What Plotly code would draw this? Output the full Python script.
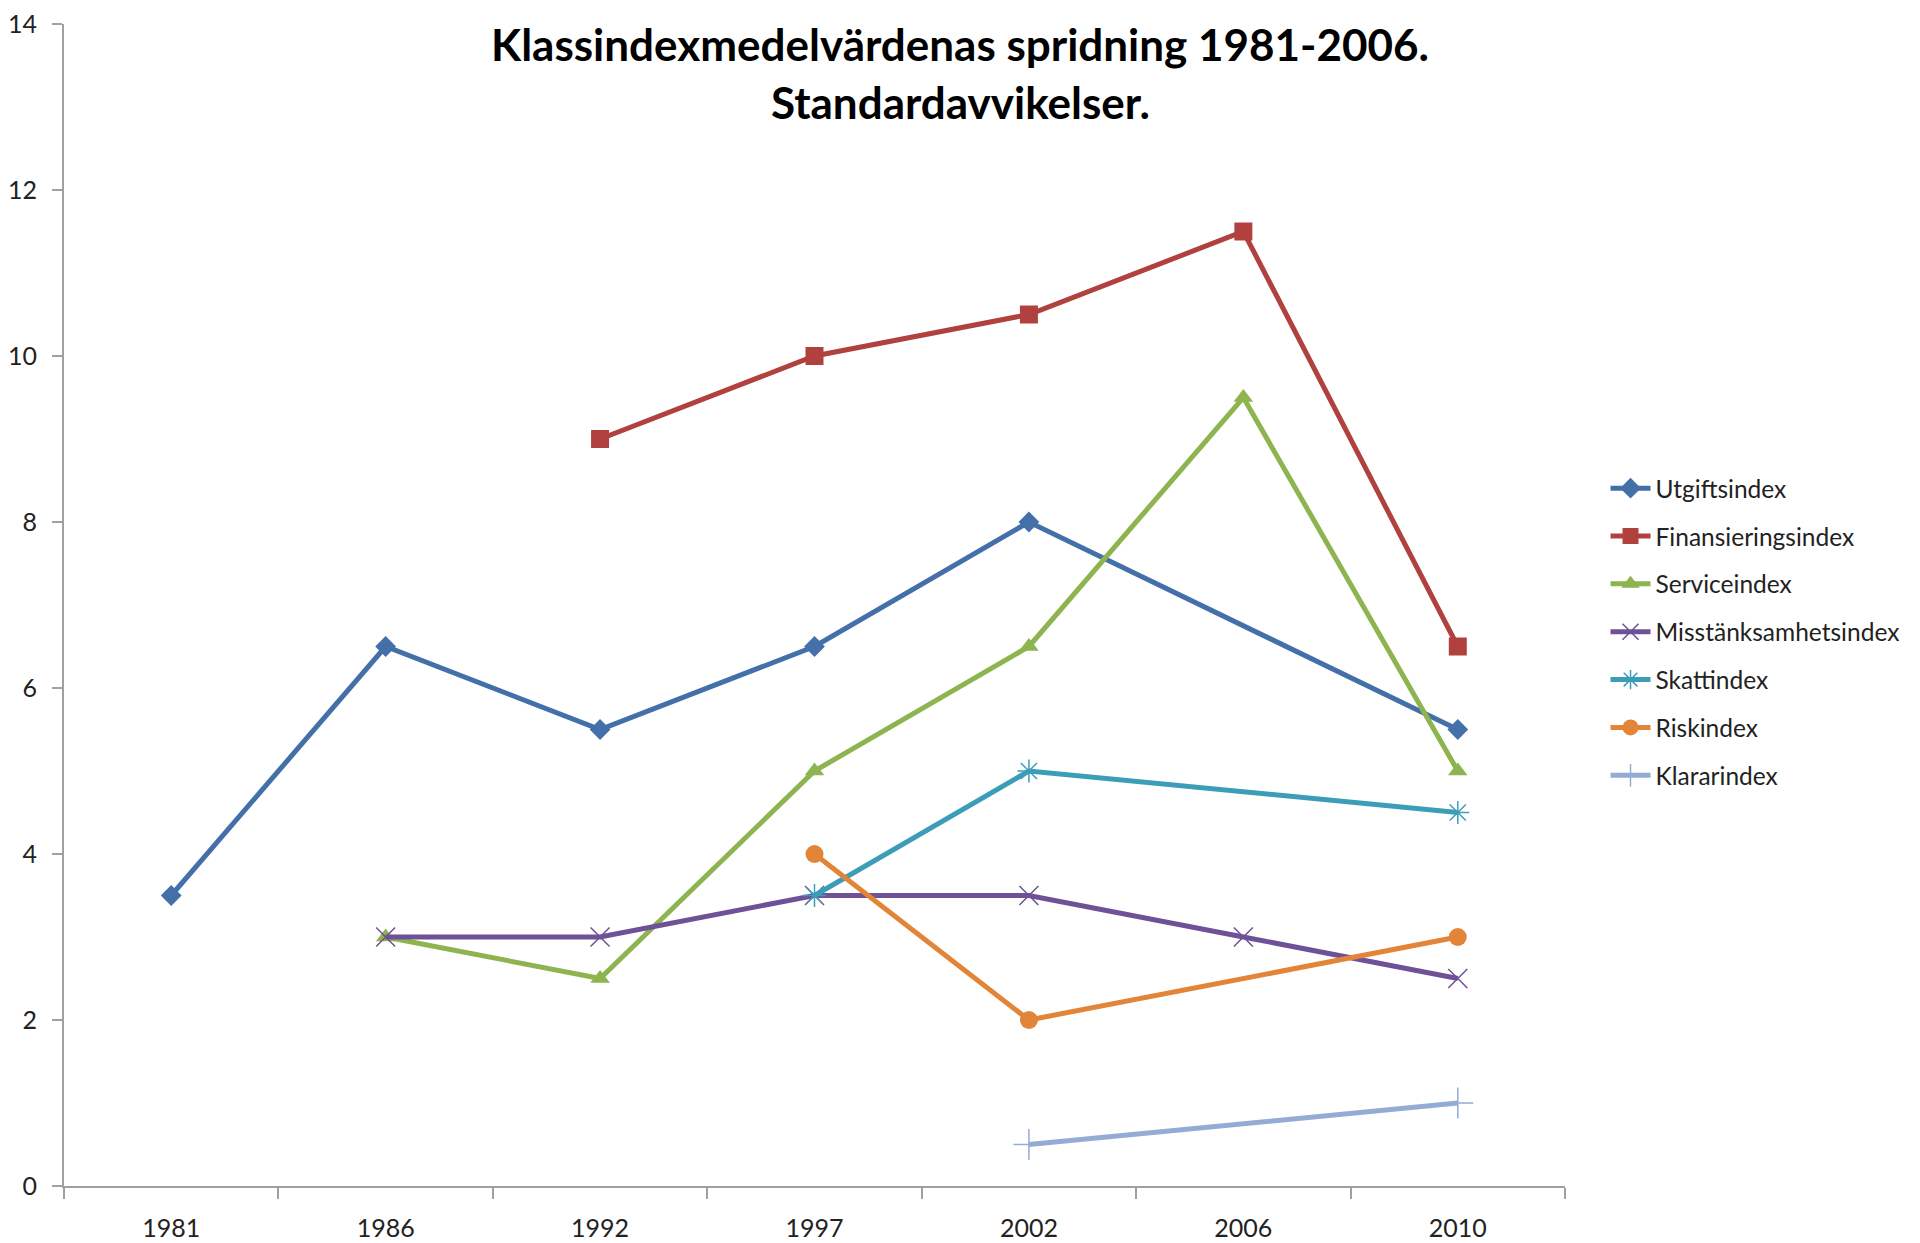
import plotly.graph_objects as go

years = ["1981", "1986", "1992", "1997", "2002", "2006", "2010"]

utgiftsindex = [3.5, 6.5, 5.5, 6.5, 8.0, None, 5.5]
finansieringsindex = [None, None, 9.0, 10.0, 10.5, 11.5, 6.5]
serviceindex = [None, 3.0, 2.5, 5.0, 6.5, 9.5, 5.0]
misstanksamhetsindex = [None, 3.0, 3.0, 3.5, 3.5, 3.0, 2.5]
skattindex = [None, None, None, 3.5, 5.0, None, 4.5]
riskindex = [None, None, None, 4.0, 2.0, None, 3.0]
klararindex = [None, None, None, None, 0.5, None, 1.0]

series_names = ["Utgiftsindex", "Finansieringsindex", "Serviceindex",
                "Misstänksamhetsindex", "Skattindex", "Riskindex", "Klararindex"]
series_values = [utgiftsindex, finansieringsindex, serviceindex,
                 misstanksamhetsindex, skattindex, riskindex, klararindex]

colors = ["#4470AA", "#B0413E", "#8DB44F", "#6E5196", "#3C9DB8", "#E38538", "#93ACD6"]
symbols = ["diamond", "square", "triangle-up", "x-thin", "asterisk", "circle", "cross-thin"]
sizes = [16, 18, 17, 19, 19, 18, 22]

FONT = "Lato"

fig = go.Figure()
for i, (name, vals) in enumerate(zip(series_names, series_values)):
    sym = symbols[i]
    thin = sym in ("x-thin", "asterisk", "cross-thin")
    marker = dict(symbol=sym, size=sizes[i], color=colors[i])
    if thin:
        marker["line"] = dict(color=colors[i], width=1.5)
    fig.add_trace(go.Scatter(
        x=years, y=vals, name=name, mode="lines+markers",
        line=dict(color=colors[i], width=5),
        marker=marker, connectgaps=True, legendgroup=name,
    ))

fig.update_layout(
    width=1912, height=1235,
    margin=dict(l=56, r=355, t=16, b=57),
    paper_bgcolor="white", plot_bgcolor="white",
    font=dict(family=FONT, color="#222222"),
    showlegend=True,
    legend=dict(x=1.027, xanchor="left", y=0.477, yanchor="middle",
                font=dict(family=FONT, size=24.5, color="#222222"),
                tracegroupgap=13, itemwidth=40, bgcolor="rgba(0,0,0,0)"),
    annotations=[
        dict(text="<b>Klassindexmedelvärdenas spridning 1981-2006.</b>",
             xref="paper", yref="paper", x=0.597, y=0.983,
             xanchor="center", yanchor="middle", showarrow=False,
             font=dict(family=FONT, size=44, color="#000000")),
        dict(text="<b>Standardavvikelser.</b>",
             xref="paper", yref="paper", x=0.597, y=0.933,
             xanchor="center", yanchor="middle", showarrow=False,
             font=dict(family=FONT, size=44, color="#000000")),
    ],
)

fig.update_xaxes(
    type="category", categoryorder="array", categoryarray=years,
    range=[-0.5, 6.5], showline=True, linecolor="#A0A0A0", linewidth=2,
    ticks="outside", tickson="boundaries", ticklen=11, tickcolor="#A0A0A0",
    tickwidth=2, showgrid=False, zeroline=False, automargin=False,
    ticklabeloverflow="allow",
    tickfont=dict(family=FONT, size=25, color="#222222"), ticklabelstandoff=19,
)
fig.update_yaxes(
    range=[0, 14], dtick=2, tick0=0, showline=True, linecolor="#A0A0A0",
    linewidth=2, ticks="outside", ticklen=10, tickcolor="#A0A0A0", tickwidth=2,
    showgrid=False, zeroline=False, automargin=False,
    ticklabeloverflow="allow",
    tickfont=dict(family=FONT, size=25, color="#222222"), ticklabelstandoff=10,
)

fig.write_html("out.html")
